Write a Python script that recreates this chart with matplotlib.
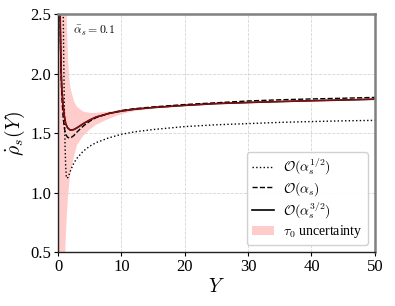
import numpy as np
import matplotlib
matplotlib.use("Agg")
import matplotlib.pyplot as plt

plt.rcParams['font.family'] = ['Liberation Serif', 'DejaVu Serif']
plt.rcParams['mathtext.fontset'] = 'cm'

## the data
# O(alpha_s^1/2)
Y_half = [0.8, 0.9, 1.0, 1.1, 1.2, 1.3, 1.4, 1.6, 1.8, 2.0, 2.5, 3, 4, 5, 6, 8,
          10, 12, 15, 20, 25, 30, 35, 40, 45, 50]
rho_half = [2.6, 2.1, 1.7, 1.4, 1.22, 1.14, 1.12, 1.13, 1.16, 1.19, 1.25, 1.29,
            1.35, 1.39, 1.42, 1.46, 1.49, 1.51, 1.53, 1.555, 1.57, 1.58, 1.59,
            1.597, 1.603, 1.607]

# O(alpha_s) and O(alpha_s^3/2)
Y_full = [0.3, 0.4, 0.5, 0.6, 0.8, 1.0, 1.2, 1.5, 1.8, 2.0, 2.5, 3, 4, 5, 6, 8,
          10, 12, 15, 20, 25, 30, 35, 40, 45, 50]
rho_one = [2.6, 2.2, 1.95, 1.8, 1.63, 1.54, 1.49, 1.465, 1.458, 1.46, 1.48, 1.51,
           1.56, 1.60, 1.63, 1.665, 1.69, 1.705, 1.72, 1.74, 1.755, 1.77, 1.78,
           1.787, 1.793, 1.80]
rho_threehalf = [2.6, 2.25, 2.0, 1.87, 1.73, 1.64, 1.58, 1.545, 1.53, 1.525, 1.53,
                 1.545, 1.58, 1.61, 1.635, 1.665, 1.685, 1.70, 1.715, 1.733, 1.748,
                 1.757, 1.765, 1.772, 1.778, 1.785]

# tau_0 band
Y_band = [0.0, 0.5, 1.0, 1.2, 1.4, 1.6, 1.8, 2.0, 2.5, 3, 4, 5, 6, 8, 10, 12, 15,
          20, 25, 30, 35, 40, 45, 50]
band_hi = [5, 5, 3.5, 2.8, 2.4, 2.1, 1.95, 1.87, 1.77, 1.72, 1.68, 1.67, 1.67, 1.68,
           1.695, 1.705, 1.72, 1.738, 1.752, 1.761, 1.769, 1.776, 1.782, 1.789]
band_lo = [-1, -1, 0.2, 0.6, 0.82, 0.98, 1.1, 1.18, 1.3, 1.4, 1.48, 1.53, 1.57, 1.62,
           1.66, 1.685, 1.705, 1.728, 1.744, 1.753, 1.761, 1.768, 1.774, 1.781]

fig = plt.figure(figsize=(3.95, 3.06), dpi=100)
ax = fig.add_axes([0.147, 0.176, 0.802, 0.778])

ax.fill_between(Y_band, band_lo, band_hi, color='red', alpha=0.2, lw=0,
                label=r'$\tau_0$ uncertainty')
ax.plot(Y_half, rho_half, color='black', ls=':', lw=1.0,
        label=r'$\mathcal{O}(\alpha_s^{1/2})$')
ax.plot(Y_full, rho_one, color='black', ls='--', lw=1.0,
        label=r'$\mathcal{O}(\alpha_s)$')
ax.plot(Y_full, rho_threehalf, color='black', ls='-', lw=1.2,
        label=r'$\mathcal{O}(\alpha_s^{3/2})$')
ax.plot(Y_full, rho_threehalf, color='#b01010', ls='-', lw=1.0, alpha=0.8)

ax.set_xlim(0, 50)
ax.set_ylim(0.5, 2.5)
ax.set_xticks([0, 10, 20, 30, 40, 50])
ax.set_yticks([0.5, 1.0, 1.5, 2.0, 2.5])
ax.tick_params(labelsize=12, length=3, direction='out', pad=2)
ax.grid(True, ls='--', color='#cccccc', lw=0.6, alpha=0.8)

for s in ['top', 'right']:
    ax.spines[s].set_color('#808080')
    ax.spines[s].set_linewidth(1.8)
for s in ['left', 'bottom']:
    ax.spines[s].set_color('#222222')
    ax.spines[s].set_linewidth(1.0)

ax.set_xlabel(r'$Y$', fontsize=14, labelpad=2)
ax.set_ylabel(r'$\dot{\rho}_s(Y)$', fontsize=14, labelpad=2)
ax.text(2.3, 2.33, r'$\bar{\alpha}_s = 0.1$', fontsize=8.5)

h, l = ax.get_legend_handles_labels()
order = [1, 2, 3, 0]
ax.legend([h[i] for i in order], [l[i] for i in order], loc='lower right',
          fontsize=10, framealpha=0.9, edgecolor='#cccccc', handlelength=1.6,
          labelspacing=0.2, borderpad=0.35, handletextpad=0.7)

fig.savefig('out.png', dpi=100)
